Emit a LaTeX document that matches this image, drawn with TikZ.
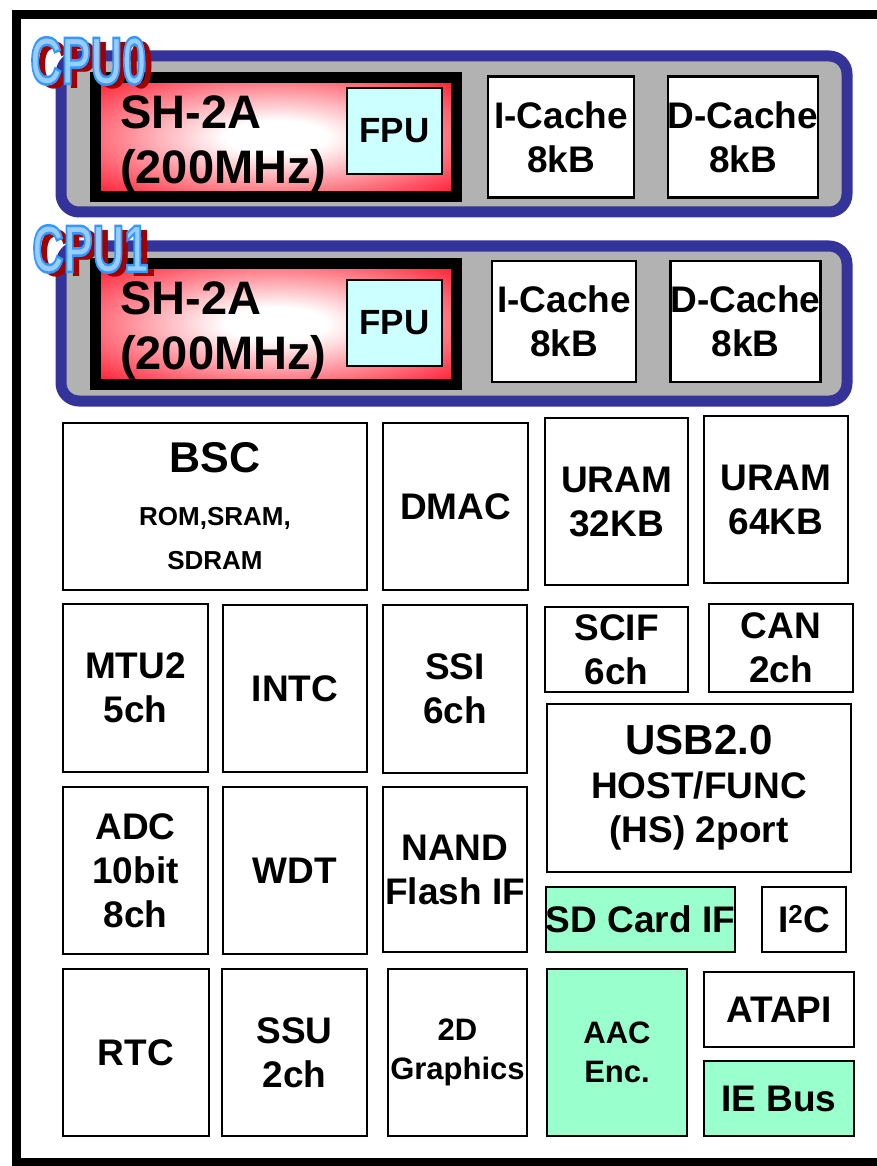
\documentclass[tikz,border=0pt]{standalone}
\usepackage{fontspec}
\setmainfont{Liberation Sans}
\usepackage{tikz}
\usetikzlibrary{positioning}
\definecolor{panelblue}{RGB}{51,51,153}
\definecolor{panelgray}{RGB}{178,178,178}
\definecolor{corered}{RGB}{255,40,60}
\definecolor{fpucyan}{RGB}{204,255,255}
\definecolor{newmint}{RGB}{153,255,204}
\definecolor{lblblue}{RGB}{153,204,255}
\definecolor{lblshadow}{RGB}{160,0,0}
\newcommand{\fsz}[2]{\fontsize{#1}{#2}\selectfont}
% outlined, condensed CPU name (stroke in mid blue)
\newcommand{\cpuname}[1]{\special{pdf:literal direct 2 Tr 2.5 w 0.2 0.6 1 RG}\scalebox{0.65}[1]{#1}\special{pdf:literal direct 0 Tr}}
\newcommand{\cpushadow}[1]{\scalebox{0.65}[1]{#1}}
\pgfdeclareradialshading{coreglow}{\pgfpoint{0bp}{0bp}}{color(0bp)=(white); color(7bp)=(white); color(33bp)=(corered); color(50bp)=(corered)}

\begin{document}
\begin{tikzpicture}[x=1pt, y=-1pt,
  frame/.style={line width=9pt, black},
  cpupanel/.style={draw=panelblue, fill=panelgray, line width=11pt, rounded corners=18pt, minimum width=786pt},
  core/.style={draw=black, line width=11pt, shade, shading=coreglow, minimum width=361pt},
  coretxt/.style={anchor=west, inner sep=0pt, align=left, font=\fsz{47}{55}\bfseries},
  fpu/.style={draw, line width=2pt, fill=fpucyan, minimum width=95pt, minimum height=86pt, inner sep=0pt, font=\fsz{35}{42}\bfseries},
  cache/.style={draw, line width=2.5pt, fill=white, minimum height=121pt, align=center, inner sep=0pt, font=\fsz{37}{44}\bfseries},
  blk/.style={draw, line width=2.5pt, fill=white, align=center, inner sep=0pt, font=\fsz{37}{44}\bfseries},
  newblk/.style={blk, fill=newmint},
  cpulbl/.style={anchor=north west, inner sep=0pt, font=\fsz{67}{67}\bfseries},
]
\useasboundingbox (0,0) rectangle (876,1166);

% === Chip outline ===
\draw[frame] (880,15) -- (16,15) -- (16,1162) -- (880,1162);

% === CPU0 ===
\node[cpupanel, minimum height=156pt] (cpu0) at (454,134) {};
\node[core, minimum height=119pt] (core0) at (276,137) {};
\node[coretxt] (core0txt) at (120,144) {SH-2A\\(200MHz)};
\node[fpu] (fpu0) at (394.5,131) {FPU};
\node[cache, minimum width=146pt] (icache0) at (561,137) {I-Cache\\8kB};
\node[cache, minimum width=146pt] (dcache0) at (743,137) {D-Cache\\8kB};
% label with shadow
\node[cpulbl, text=lblshadow] (cpu0sh) at (37,42) {\cpushadow{CPU0}};
\node[cpulbl, text=lblblue] (cpu0lbl) at (30,37) {\cpuname{CPU0}};

% === CPU1 ===
\node[cpupanel, minimum height=155pt] (cpu1) at (454,323.5) {};
\node[core, minimum height=121pt] (core1) at (276,324) {};
\node[coretxt] (core1txt) at (120,330) {SH-2A\\(200MHz)};
\node[fpu] (fpu1) at (394.5,323) {FPU};
\node[cache, minimum width=144pt] (icache1) at (564,321.5) {I-Cache\\8kB};
\node[cache, minimum width=145pt] (dcache1) at (745.5,321.5) {D-Cache\\8kB};
% label with shadow
\node[cpulbl, text=lblshadow] (cpu1sh) at (39,230) {\cpushadow{CPU1}};
\node[cpulbl, text=lblblue] (cpu1lbl) at (32,225) {\cpuname{CPU1}};

% === Peripherals, row 1 ===
\node[blk, minimum width=304pt, minimum height=167pt] (bsc) at (215,506.5)
  {{\fsz{43}{50}BSC}\\[9pt]{\fsz{26}{44}ROM,SRAM,}\\{\fsz{26}{44}SDRAM}};
\node[blk, minimum width=145pt, minimum height=167pt] (dmac) at (455.5,506.5) {DMAC};
\node[blk, minimum width=143pt, minimum height=167pt] (uram32) at (616.5,501.5) {URAM\\32KB};
\node[blk, minimum width=144pt, minimum height=167pt] (uram64) at (776,499.5) {URAM\\64KB};

% === Row 2 ===
\node[blk, minimum width=145pt, minimum height=168pt] (mtu) at (135.5,688) {MTU2\\5ch};
\node[blk, minimum width=144pt, minimum height=167pt] (intc) at (295,688.5) {INTC};
\node[blk, minimum width=144pt, minimum height=168pt] (ssi) at (455,689) {SSI\\6ch};
\node[blk, minimum width=143pt, minimum height=85pt] (scif) at (616.5,649.5) {SCIF\\6ch};
\node[blk, minimum width=144pt, minimum height=88pt] (can) at (781,648) {CAN\\2ch};
\node[blk, minimum width=304pt, minimum height=168pt] (usb) at (699,788)
  {{\fsz{42}{44}USB2.0}\\HOST/FUNC\\(HS) 2port};

% === Row 3 ===
\node[blk, minimum width=145pt, minimum height=167pt] (adc) at (135.5,870.5) {ADC\\10bit\\8ch};
\node[blk, minimum width=144pt, minimum height=167pt] (wdt) at (295,870.5) {WDT};
\node[blk, minimum width=144pt, minimum height=165pt] (nand) at (455,869.5) {NAND\\Flash IF};
\node[newblk, minimum width=187pt, minimum height=65pt] (sdif) at (640.5,919.5) {SD Card IF};
\node[blk, minimum width=84pt, minimum height=65pt] (iic) at (804,919.5) {I\textsuperscript{2}C};

% === Row 4 ===
\node[blk, minimum width=146pt, minimum height=167pt] (rtc) at (136,1052.5) {RTC};
\node[blk, minimum width=145pt, minimum height=167pt] (ssu) at (294.5,1052.5) {SSU\\2ch};
\node[blk, minimum width=139pt, minimum height=167pt, font=\fsz{31}{39}\bfseries] (gfx) at (457.5,1052.5) {2D\\Graphics};
\node[newblk, minimum width=140pt, minimum height=167pt, font=\fsz{31}{39}\bfseries] (aac) at (617,1052.5) {AAC\\Enc.};
\node[blk, minimum width=150pt, minimum height=75pt] (atapi) at (779,1009.5) {ATAPI};
\node[newblk, minimum width=150pt, minimum height=75pt] (iebus) at (779,1098.5) {IE Bus};
\end{tikzpicture}
\end{document}
